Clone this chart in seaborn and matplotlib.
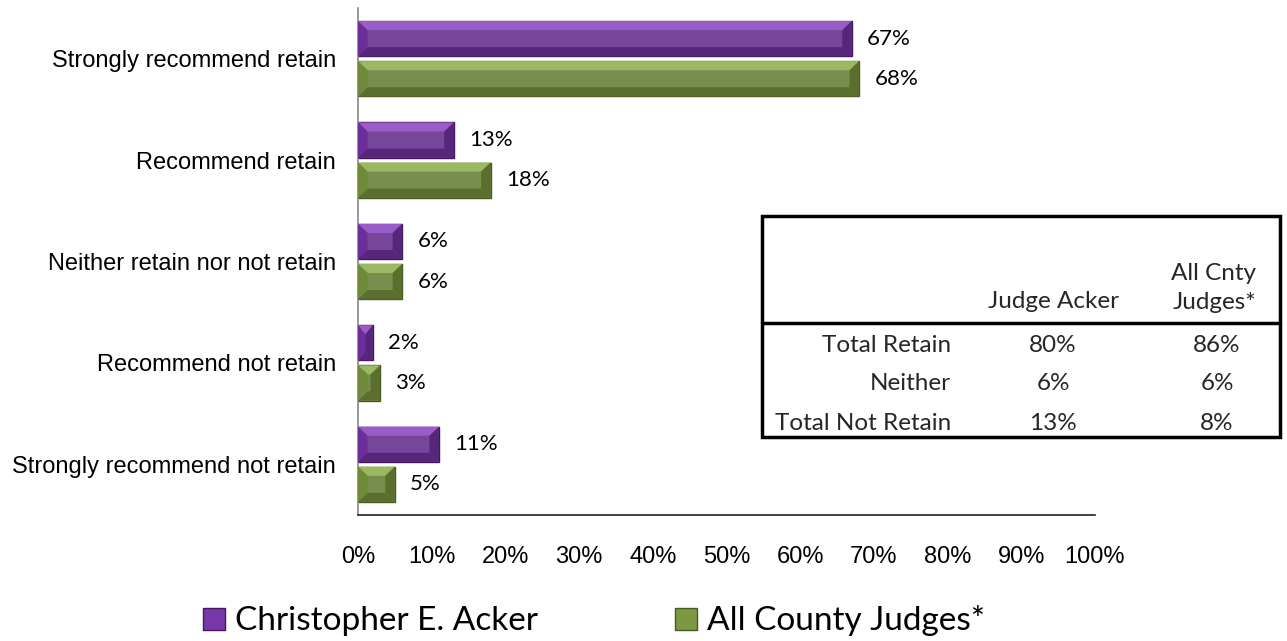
import pandas as pd
import matplotlib
matplotlib.use("Agg")
import matplotlib.pyplot as plt
import seaborn as sns
from matplotlib.patches import Rectangle, Patch, Polygon
from matplotlib.lines import Line2D

categories = [
    "Strongly recommend retain",
    "Recommend retain",
    "Neither retain nor not retain",
    "Recommend not retain",
    "Strongly recommend not retain",
]
series = ["Christopher E. Acker", "All County Judges*"]
acker_values = [67, 13, 6, 2, 11]
county_values = [68, 18, 6, 3, 5]

table_cols = ["Judge Acker", "All Cnty\nJudges*"]
table_rows = ["Total Retain", "Neither", "Total Not Retain"]
table_acker = ["80%", "6%", "13%"]
table_county = ["86%", "6%", "8%"]

colors = ["#7838A8", "#7C9843"]
edges = ["#43185E", "#475A22"]
light = ["#9A5CC8", "#9DB862"]
dark = ["#55267A", "#5A6F2E"]
side = ["#6C2F99", "#708A3B"]

df = pd.DataFrame({
    "category": categories * 2,
    "series": [series[0]] * len(categories) + [series[1]] * len(categories),
    "value": acker_values + county_values,
})

sns.set_theme(style="white")
plt.rcParams["font.family"] = ["Liberation Sans", "DejaVu Sans"]
CAL = ["Lato", "DejaVu Sans"]

W, H = 1287, 641
fig = plt.figure(figsize=(W / 100, H / 100), dpi=100)
ax = fig.add_axes([358 / W, 1 - 515 / H, (1095 - 358) / W, (515 - 8) / H])

sns.barplot(data=df, y="category", x="value", hue="series", order=categories,
            hue_order=series, palette=colors, orient="h", width=0.79, gap=0.12,
            legend=False, ax=ax)

# bevel look, built on top of each seaborn bar
bx, by = 1.3, 0.09
for i, container in enumerate(ax.containers):
    for bar in container:
        x0, y0 = bar.get_x(), bar.get_y()
        w, h = bar.get_width(), bar.get_height()
        x1, y1 = x0 + w, y0 + h
        b = min(bx, w / 2)
        ax.add_patch(Polygon([(x0, y0), (x1, y0), (x1 - b, y0 + by), (x0 + b, y0 + by)],
                             closed=True, fc=light[i], ec="none", zorder=3))
        ax.add_patch(Polygon([(x0, y1), (x1, y1), (x1 - b, y1 - by), (x0 + b, y1 - by)],
                             closed=True, fc=dark[i], ec="none", zorder=3))
        ax.add_patch(Polygon([(x0, y0), (x0 + b, y0 + by), (x0 + b, y1 - by), (x0, y1)],
                             closed=True, fc=side[i], ec="none", zorder=3))
        ax.add_patch(Polygon([(x1, y0), (x1 - b, y0 + by), (x1 - b, y1 - by), (x1, y1)],
                             closed=True, fc=dark[i], ec="none", zorder=3))
        bar.set_edgecolor(edges[i])
        bar.set_linewidth(1.0)
        bar.set_zorder(2)
    ax.bar_label(container, labels=[f"{v:.0f}%" for v in container.datavalues],
                 padding=11, fontsize=16, family=CAL, color="black")

ax.set_xlim(0, 100)
ax.set_xticks(range(0, 101, 10))
ax.set_xticklabels([f"{t}%" for t in range(0, 101, 10)], fontsize=17, color="black")
ax.tick_params(axis="x", length=0, pad=22)
ax.tick_params(axis="y", length=0, pad=16, labelsize=17, labelcolor="black")
ax.set_xlabel("")
ax.set_ylabel("")
sns.despine(ax=ax)
ax.spines["left"].set_color("#888888")
ax.spines["bottom"].set_color("#222222")
ax.spines["left"].set_linewidth(1.2)
ax.spines["bottom"].set_linewidth(1.2)

# summary table
def fx(px):
    return px / W

def fy(py):
    return 1 - py / H

TS = 17.5
fig.patches.append(Rectangle((fx(762), fy(437)), fx(1280) - fx(762), fy(216) - fy(437),
                             transform=fig.transFigure, fill=False, lw=2.5, ec="black"))
fig.lines.append(Line2D([fx(762), fx(1280)], [fy(323), fy(323)],
                        transform=fig.transFigure, lw=2.5, color="black"))
fig.text(fx(1053), fy(302), table_cols[0], ha="center", va="center", fontsize=TS, family=CAL)
fig.text(fx(1256), fy(288), table_cols[1], ha="right", va="center", fontsize=TS, family=CAL,
         linespacing=1.45, multialignment="right")
row_y = [345, 384, 423]
for name, a, c, yy in zip(table_rows, table_acker, table_county, row_y):
    fig.text(fx(951), fy(yy), name, ha="right", va="center", fontsize=TS, family=CAL)
    fig.text(fx(1053), fy(yy), a, ha="center", va="center", fontsize=TS, family=CAL)
    fig.text(fx(1217), fy(yy), c, ha="center", va="center", fontsize=TS, family=CAL)

handles = [Patch(facecolor=colors[i], edgecolor=edges[i], label=series[i]) for i in range(2)]
fig.legend(handles=handles, loc="center", bbox_to_anchor=(0.4616, fy(621)), ncol=2,
           frameon=False, prop={"family": CAL, "size": 24}, handlelength=0.66,
           handleheight=0.66, handletextpad=0.3, columnspacing=4.1,
           labelcolor="black")

fig.savefig("out.png", dpi=100)
